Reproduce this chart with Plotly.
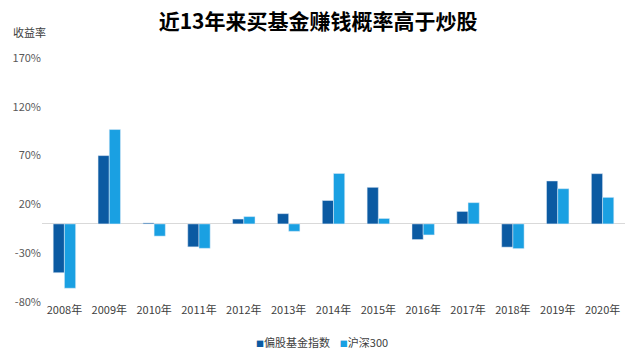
import plotly.graph_objects as go

years = ["2008年", "2009年", "2010年", "2011年", "2012年", "2013年", "2014年",
         "2015年", "2016年", "2017年", "2018年", "2019年", "2020年"]
fund_index = [-50.0, 70.0, 1.0, -23.5, 5.0, 10.5, 24.0, 37.5, -16.0, 12.8, -23.8, 44.0, 51.5]
hs300 = [-65.9, 96.7, -12.5, -25.0, 7.5, -7.6, 51.7, 5.6, -11.3, 21.8, -25.3, 36.1, 27.2]
tick_vals = [-80, -30, 20, 70, 120, 170]
tick_text = [f"{v}%" for v in tick_vals]
series_names = ["偏股基金指数", "沪深300"]
series_colors = ["#0B5AA2", "#1AA0E2"]

FONT = "Noto Sans CJK SC"

fig = go.Figure()
fig.add_trace(go.Bar(x=years, y=fund_index, name=series_names[0], marker_color=series_colors[0]))
fig.add_trace(go.Bar(x=years, y=hs300, name=series_names[1], marker_color=series_colors[1]))

legend_text = "&nbsp;&nbsp;&nbsp;&nbsp;".join(
    f"<span style='color:{c};font-size:8px'>■</span>{n}" for n, c in zip(series_names, series_colors))

fig.update_layout(
    width=640, height=360,
    margin=dict(l=42, r=15, t=58, b=58, autoexpand=False),
    paper_bgcolor="white", plot_bgcolor="white",
    font=dict(family=FONT, size=11, color="#404040"),
    barmode="group", bargap=0.5, bargroupgap=0,
    title=dict(text="<b>近13年来买基金赚钱概率高于炒股</b>", x=0.497, xanchor="center",
               y=0.94, yanchor="middle",
               font=dict(family=FONT, size=21, color="#000000")),
    showlegend=False,
    annotations=[
        dict(text="收益率", xref="paper", yref="paper", x=-0.053, y=1.105,
             xanchor="left", yanchor="middle", showarrow=False,
             font=dict(size=11, color="#404040")),
        dict(text=legend_text, xref="paper", yref="paper", x=0.48, y=-0.163,
             xanchor="center", yanchor="middle", showarrow=False,
             font=dict(size=11, color="#404040")),
    ],
)
fig.update_xaxes(showline=False, ticks="", tickfont=dict(size=11, color="#404040"))
fig.update_yaxes(range=[-80, 170], tickvals=tick_vals, ticktext=tick_text, showgrid=False,
                 zeroline=True, zerolinecolor="#D9D9D9", zerolinewidth=1,
                 tickfont=dict(size=11, color="#595959"))

fig.write_html("out.html")
